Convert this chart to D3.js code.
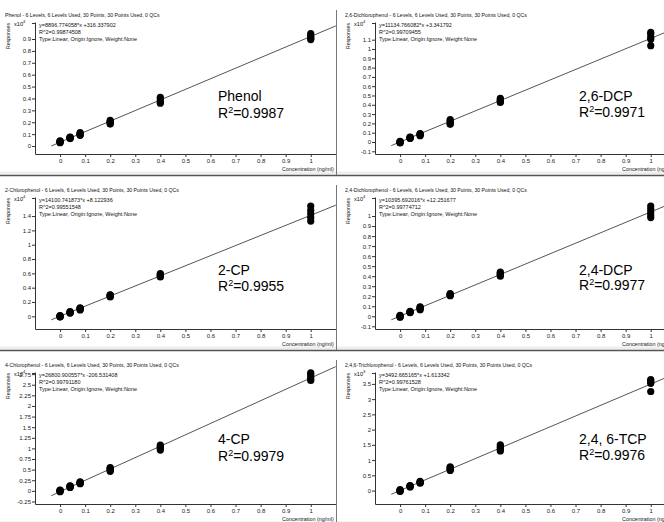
<!DOCTYPE html>
<html>
<head>
<meta charset="utf-8">
<script src="https://cdn.jsdelivr.net/npm/d3@7"></script>
<style>
  body { margin: 0; background: #fff; }
  svg { display: block; font-family: "Liberation Sans", Arial, sans-serif; }
</style>
</head>
<body>
<svg id="chart"></svg>
<script>
let width = 664,
  height = 522;

// Data
const compounds = ["Phenol", "2,6-Dichlorophenol", "2-Chlorophenol", "2,4-Dichlorophenol", "4-Chlorophenol", "2,4,6-Trichlorophenol"];
const shortNames = ["Phenol", "2,6-DCP", "2-CP", "2,4-DCP", "4-CP", "2,4, 6-TCP"];
const r2Short = ["0.9987", "0.9971", "0.9955", "0.9977", "0.9979", "0.9976"];
const r2Full = ["0.99874508", "0.99709455", "0.99551548", "0.99774712", "0.99791180", "0.99761528"];
const slopes = [8896.774058, 11134.766082, 14100.741873, 10395.692016, 26800.900557, 3492.665165];
const intercepts = [316.337902, 3.341792, 8.122936, 12.251677, -206.531408, 1.613342];
const exponents = [4, 4, 4, 4, 4, 3];

const levels = [0, 0.04, 0.08, 0.2, 0.4, 1];
const xTicks = [0, 0.1, 0.2, 0.3, 0.4, 0.5, 0.6, 0.7, 0.8, 0.9, 1];

// responses in units of 10^exponent, 5 replicates per level
const phenol = [
  [0.028, 0.032, 0.036, 0.040, 0.044],
  [0.063, 0.066, 0.069, 0.072, 0.075],
  [0.090, 0.095, 0.100, 0.105, 0.112],
  [0.185, 0.192, 0.200, 0.208, 0.215],
  [0.360, 0.370, 0.380, 0.395, 0.410],
  [0.895, 0.905, 0.915, 0.930, 0.945]
];
const dcp26 = [
  [-0.010, -0.005, 0.000, 0.003, 0.006],
  [0.038, 0.042, 0.046, 0.050, 0.052],
  [0.068, 0.074, 0.080, 0.085, 0.090],
  [0.190, 0.200, 0.215, 0.230, 0.240],
  [0.425, 0.435, 0.445, 0.455, 0.470],
  [1.035, 1.105, 1.125, 1.160, 1.180]
];
const cp2 = [
  [-0.010, -0.005, 0.000, 0.005, 0.010],
  [0.045, 0.050, 0.055, 0.060, 0.065],
  [0.090, 0.100, 0.105, 0.110, 0.120],
  [0.270, 0.280, 0.290, 0.295, 0.300],
  [0.550, 0.560, 0.575, 0.585, 0.595],
  [1.330, 1.380, 1.430, 1.480, 1.540]
];
const dcp24 = [
  [-0.010, -0.005, 0.000, 0.004, 0.008],
  [0.035, 0.040, 0.042, 0.045, 0.048],
  [0.065, 0.072, 0.080, 0.088, 0.095],
  [0.205, 0.210, 0.215, 0.220, 0.225],
  [0.400, 0.410, 0.420, 0.430, 0.440],
  [0.985, 1.010, 1.040, 1.070, 1.100]
];
const cp4 = [
  [-0.020, -0.010, 0.000, 0.010, 0.020],
  [0.080, 0.090, 0.100, 0.110, 0.120],
  [0.170, 0.180, 0.190, 0.200, 0.210],
  [0.460, 0.480, 0.500, 0.530, 0.550],
  [0.960, 0.990, 1.020, 1.050, 1.080],
  [2.600, 2.640, 2.680, 2.740, 2.780]
];
const tcp246 = [
  [-0.030, -0.010, 0.000, 0.010, 0.030],
  [0.120, 0.130, 0.140, 0.150, 0.160],
  [0.240, 0.260, 0.270, 0.280, 0.300],
  [0.660, 0.690, 0.720, 0.750, 0.780],
  [1.300, 1.350, 1.400, 1.450, 1.500],
  [3.250, 3.520, 3.560, 3.600, 3.640]
];
const responses = [phenol, dcp26, cp2, dcp24, cp4, tcp246];

const yDomains = [[-0.067, 1.043], [-0.129, 1.29], [-0.177, 1.666], [-0.127, 1.19], [-0.31, 2.8], [-0.44, 3.89]];
const yTicks = [
  [0, 0.1, 0.2, 0.3, 0.4, 0.5, 0.6, 0.7, 0.8, 0.9],
  [-0.1, 0, 0.1, 0.2, 0.3, 0.4, 0.5, 0.6, 0.7, 0.8, 0.9, 1, 1.1],
  [0, 0.2, 0.4, 0.6, 0.8, 1, 1.2, 1.4],
  [-0.1, 0, 0.1, 0.2, 0.3, 0.4, 0.5, 0.6, 0.7, 0.8, 0.9, 1],
  [-0.25, 0, 0.25, 0.5, 0.75, 1, 1.25, 1.5, 1.75, 2, 2.25, 2.5, 2.75],
  [0, 0.5, 1, 1.5, 2, 2.5, 3, 3.5]
];
const annotY = [[101, 118], [101, 117], [100, 116], [100, 115], [94, 111], [94, 110]];

let svg = d3.select("#chart").attr("width", width).attr("height", height);

const fmt = (d) => String(+d.toFixed(2));

compounds.forEach((name, i) => {
  let col = i % 2,
    row = Math.floor(i / 2);
  let left = col * 340,
    top = row * 175;
  let clipW = col === 0 ? 336 : 324;

  let g = svg.append("g").attr("transform", "translate(" + left + "," + top + ")");

  g.append("clipPath")
    .attr("id", "clip" + i)
    .append("rect")
    .attr("x", col === 0 ? 0 : -4)
    .attr("y", 0)
    .attr("width", clipW + (col === 0 ? 0 : 4))
    .attr("height", 175);

  let inner = g.append("g").attr("clip-path", "url(#clip" + i + ")");

  var x = d3.scaleLinear().domain([-0.1, 1.1]).range([35, 335.8]);
  var y = d3.scaleLinear().domain(yDomains[i]).range([154, 22]);

  // light band at bottom
  inner.append("rect")
    .attr("x", -4).attr("y", 171.5)
    .attr("width", 340).attr("height", 3)
    .attr("fill", "#eeeeee");

  // Axes
  let yAxis = inner.append("g")
    .attr("transform", "translate(35,0)")
    .call(d3.axisLeft(y).tickValues(yTicks[i]).tickFormat(fmt).tickSize(3).tickSizeOuter(0).tickPadding(1));

  let xAxis = inner.append("g")
    .attr("transform", "translate(0,154)")
    .call(d3.axisBottom(x).tickValues(xTicks).tickFormat(fmt).tickSize(3).tickSizeOuter(0).tickPadding(2));

  [yAxis, xAxis].forEach((a) => {
    a.selectAll("path").attr("stroke", "#333");
    a.selectAll("line").attr("stroke", "#333");
    a.selectAll("text").attr("font-size", 6).attr("fill", "#222")
      .attr("font-family", "'Liberation Sans', Arial, sans-serif");
  });

  // top tick next to multiplier
  inner.append("line")
    .attr("x1", 32).attr("x2", 35)
    .attr("y1", 23.5).attr("y2", 23.5)
    .attr("stroke", "#333");

  // Regression line
  let fit = (v) => (slopes[i] * v + intercepts[i]) / Math.pow(10, exponents[i]);
  inner.append("line")
    .attr("x1", x(-0.035)).attr("y1", y(fit(-0.035)))
    .attr("x2", x(1.1)).attr("y2", y(fit(1.1)))
    .attr("stroke", "#555")
    .attr("stroke-width", 1);

  // Points
  let pts = [];
  responses[i].forEach((reps, k) => reps.forEach((r) => pts.push({ x: levels[k], y: r })));
  inner.append("g")
    .selectAll("circle")
    .data(pts)
    .enter()
    .append("circle")
    .attr("cx", (d) => x(d.x))
    .attr("cy", (d) => y(d.y))
    .attr("r", 3.6)
    .attr("fill", "#000");

  // Header texts
  inner.append("text")
    .attr("x", 5).attr("y", 17)
    .attr("font-size", 5.15).attr("fill", "#111")
    .text(name + " - 6 Levels, 6 Levels Used, 30 Points, 30 Points Used, 0 QCs");

  let sign = intercepts[i] >= 0 ? "+" : "-";
  let info = [
    "y=" + slopes[i].toFixed(6) + "*x " + sign + Math.abs(intercepts[i]).toFixed(6),
    "R^2=" + r2Full[i],
    "Type:Linear, Origin:Ignore, Weight:None"
  ];
  inner.selectAll("text.info")
    .data(info)
    .enter()
    .append("text")
    .attr("class", "info")
    .attr("x", 39)
    .attr("y", (d, k) => 26.5 + k * 7)
    .attr("font-size", 5.5)
    .attr("fill", "#111")
    .text((d) => d);

  let mult = inner.append("text")
    .attr("x", 14).attr("y", 25.5)
    .attr("font-size", 5.6).attr("fill", "#111")
    .text("x10");
  mult.append("tspan").attr("dy", -2.4).attr("font-size", 4.2).text(exponents[i]);

  inner.append("text")
    .attr("transform", "translate(10,36) rotate(-90)")
    .attr("text-anchor", "middle")
    .attr("font-size", 5.2).attr("fill", "#111")
    .text("Responses");

  inner.append("text")
    .attr("x", 282).attr("y", 171)
    .attr("font-size", 5.4).attr("fill", "#111")
    .text("Concentration (ng/ml)");

  // Big annotation
  let ax = col === 0 ? 218 : 239;
  inner.append("text")
    .attr("x", ax).attr("y", annotY[i][0])
    .attr("font-size", 14).attr("fill", "#000")
    .text(shortNames[i]);
  let r2t = inner.append("text")
    .attr("x", ax).attr("y", annotY[i][1])
    .attr("font-size", 14).attr("fill", "#000")
    .text("R");
  r2t.append("tspan").attr("dy", -5).attr("font-size", 9).text("2");
  r2t.append("tspan").attr("dy", 5).text("=" + r2Short[i]);
});

// Panel separators
[175.5, 350.5].forEach((yy) => {
  svg.append("line")
    .attr("x1", 0).attr("x2", width)
    .attr("y1", yy).attr("y2", yy)
    .attr("stroke", "#555").attr("stroke-width", 1.5);
});
[0, 1, 2].forEach((r) => {
  svg.append("line")
    .attr("x1", 336.5).attr("x2", 336.5)
    .attr("y1", r * 175 + 10).attr("y2", r === 2 ? height : r * 175 + 175)
    .attr("stroke", "#777").attr("stroke-width", 1);
});
</script>
</body>
</html>
